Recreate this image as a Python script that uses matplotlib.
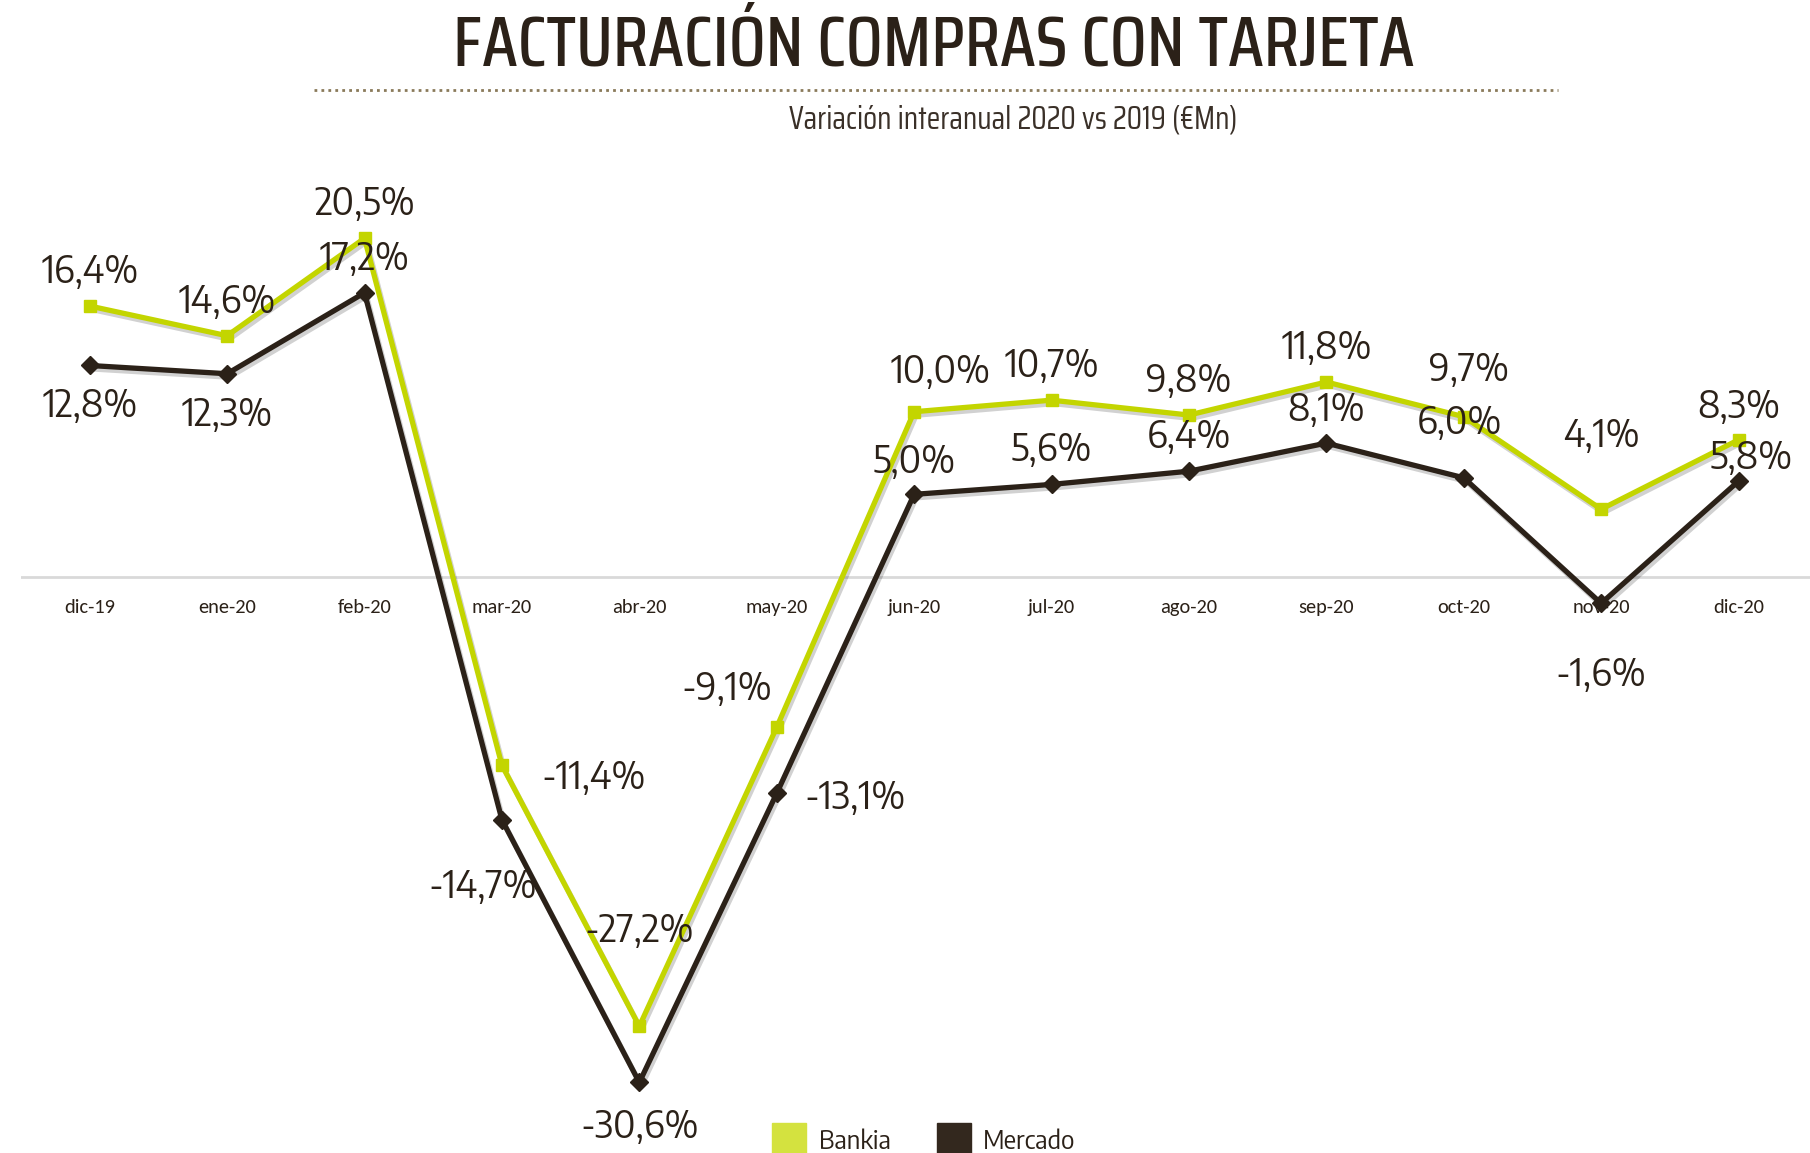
import matplotlib
matplotlib.use("Agg")
import matplotlib.pyplot as plt
import matplotlib.patheffects as pe
from matplotlib.lines import Line2D
from matplotlib import font_manager

# Datos (variación interanual, %)
meses = ['dic-19', 'ene-20', 'feb-20', 'mar-20', 'abr-20', 'may-20', 'jun-20',
         'jul-20', 'ago-20', 'sep-20', 'oct-20', 'nov-20', 'dic-20']
bankia = [16.4, 14.6, 20.5, -11.4, -27.2, -9.1, 10.0, 10.7, 9.8, 11.8, 9.7, 4.1, 8.3]
mercado = [12.8, 12.3, 17.2, -14.7, -30.6, -13.1, 5.0, 5.6, 6.4, 8.1, 6.0, -1.6, 5.8]

# desplazamiento de las etiquetas (puntos)
off_bankia = [(0, 25), (0, 25), (0, 25), (66, -9), (0, 69), (-36, 28), (19, 29),
              (0, 25), (0, 25), (0, 25), (4, 34), (0, 53), (0, 24)]
off_mercado = [(0, -29), (0, -29), (0, 25), (-14, -48), (0, -32), (56, -3), (0, 24),
               (0, 25), (0, 25), (0, 24), (-3, 40), (0, -51), (9, 17)]

VERDE = '#c3d500'
VERDE_LEY = '#d4e23f'
MARRON = '#2b2118'
MARRON_LEY = '#33281e'
TEXTO = '#2b2118'

disponibles = {f.name for f in font_manager.fontManager.ttflist}


def elegir(opciones):
    for o in opciones:
        if o in disponibles:
            return o
    return 'DejaVu Sans'


TITULO_FAM = elegir(['Saira Condensed', 'Encode Sans Condensed', 'Roboto Condensed',
                     'Saira Semi Condensed', 'PT Sans Narrow', 'Archivo Narrow',
                     'Liberation Sans Narrow', 'Open Sans'])
ESTRECHA = elegir(['Saira Semi Condensed', 'Encode Sans Semi Condensed',
                   'Saira Condensed', 'Roboto Condensed', 'PT Sans Narrow',
                   'Archivo Narrow', 'Liberation Sans Narrow', 'Open Sans'])
MESES_FAM = elegir(['Carlito', 'PT Sans', 'Open Sans', 'Liberation Sans'])

fig = plt.figure(figsize=(18.1, 11.53), dpi=100)
renderer = fig.canvas.get_renderer()


def ajustar(texto, familia, ancho, base=20, peso='normal'):
    # tamaño de letra para que el texto ocupe "ancho" pixeles
    t = fig.text(0, 0, texto, fontsize=base, family=familia, weight=peso)
    w = t.get_window_extent(renderer).width
    t.remove()
    return base * ancho / w


fs_titulo = ajustar('FACTURACIÓN COMPRAS CON TARJETA', TITULO_FAM, 960, peso='medium')
fs_sub = ajustar('Variación interanual 2020 vs 2019 (€Mn)', TITULO_FAM, 450)
fs_dato = ajustar('16,4%', ESTRECHA, 97)
fs_mes = ajustar('dic-19', MESES_FAM, 51)
fs_ley = ajustar('Mercado', ESTRECHA, 92)

ax = fig.add_axes([0.0116, 0.046, 0.9884, 0.824])
x = list(range(len(meses)))

sombra = [pe.SimpleLineShadow(offset=(1.5, -2.5), alpha=0.18), pe.Normal()]

ax.axhline(0, color='#d9d9d9', lw=2, zorder=1)

ax.plot(x, mercado, color=MARRON, lw=3.8, zorder=3, path_effects=sombra)
ax.plot(x, mercado, color=MARRON, lw=0, marker='D', markersize=9, zorder=3)
ax.plot(x, bankia, color=VERDE, lw=3.8, zorder=4, path_effects=sombra)
ax.plot(x, bankia, color=VERDE, lw=0, marker='s', markersize=9, zorder=4)

for i, v in enumerate(bankia):
    ax.annotate(f"{v:.1f}%".replace('.', ','), (i, v), xytext=off_bankia[i],
                textcoords='offset points', ha='center', va='center',
                fontsize=fs_dato, color=TEXTO, family=ESTRECHA, zorder=5)
for i, v in enumerate(mercado):
    ax.annotate(f"{v:.1f}%".replace('.', ','), (i, v), xytext=off_mercado[i],
                textcoords='offset points', ha='center', va='center',
                fontsize=fs_dato, color=TEXTO, family=ESTRECHA, zorder=5)

for i, m in enumerate(meses):
    ax.annotate(m, (i, 0), xytext=(0, -22), textcoords='offset points',
                ha='center', va='center', fontsize=fs_mes, color=TEXTO,
                family=MESES_FAM, zorder=2)

ax.set_xlim(-0.5, 12.52)
ax.set_ylim(-31.66, 25.85)
ax.axis('off')

# titulo y subtitulo
fig.text(0.516, 0.960, 'FACTURACIÓN COMPRAS CON TARJETA', ha='center', va='center',
         fontsize=fs_titulo, color=TEXTO, family=TITULO_FAM, weight='medium')
fig.add_artist(Line2D([0.1735, 0.861], [0.922, 0.922], transform=fig.transFigure,
                      color='#8a7a5a', lw=2, linestyle=(0, (1, 1.5))))
fig.text(0.560, 0.896, 'Variación interanual 2020 vs 2019 (€Mn)', ha='center',
         va='center', fontsize=fs_sub, color='#3a3028', family=TITULO_FAM)

# leyenda
handles = [Line2D([], [], marker='s', linestyle='none', markersize=24,
                  color=VERDE_LEY),
           Line2D([], [], marker='s', linestyle='none', markersize=24,
                  color=MARRON_LEY)]
fig.legend(handles, ['Bankia', 'Mercado'], loc='lower center',
           bbox_to_anchor=(0.508, -0.022), ncol=2, frameon=False,
           prop={'family': ESTRECHA, 'size': fs_ley}, handletextpad=0.15,
           columnspacing=1.45, labelcolor=TEXTO)

fig.savefig('out.png', dpi=100)
